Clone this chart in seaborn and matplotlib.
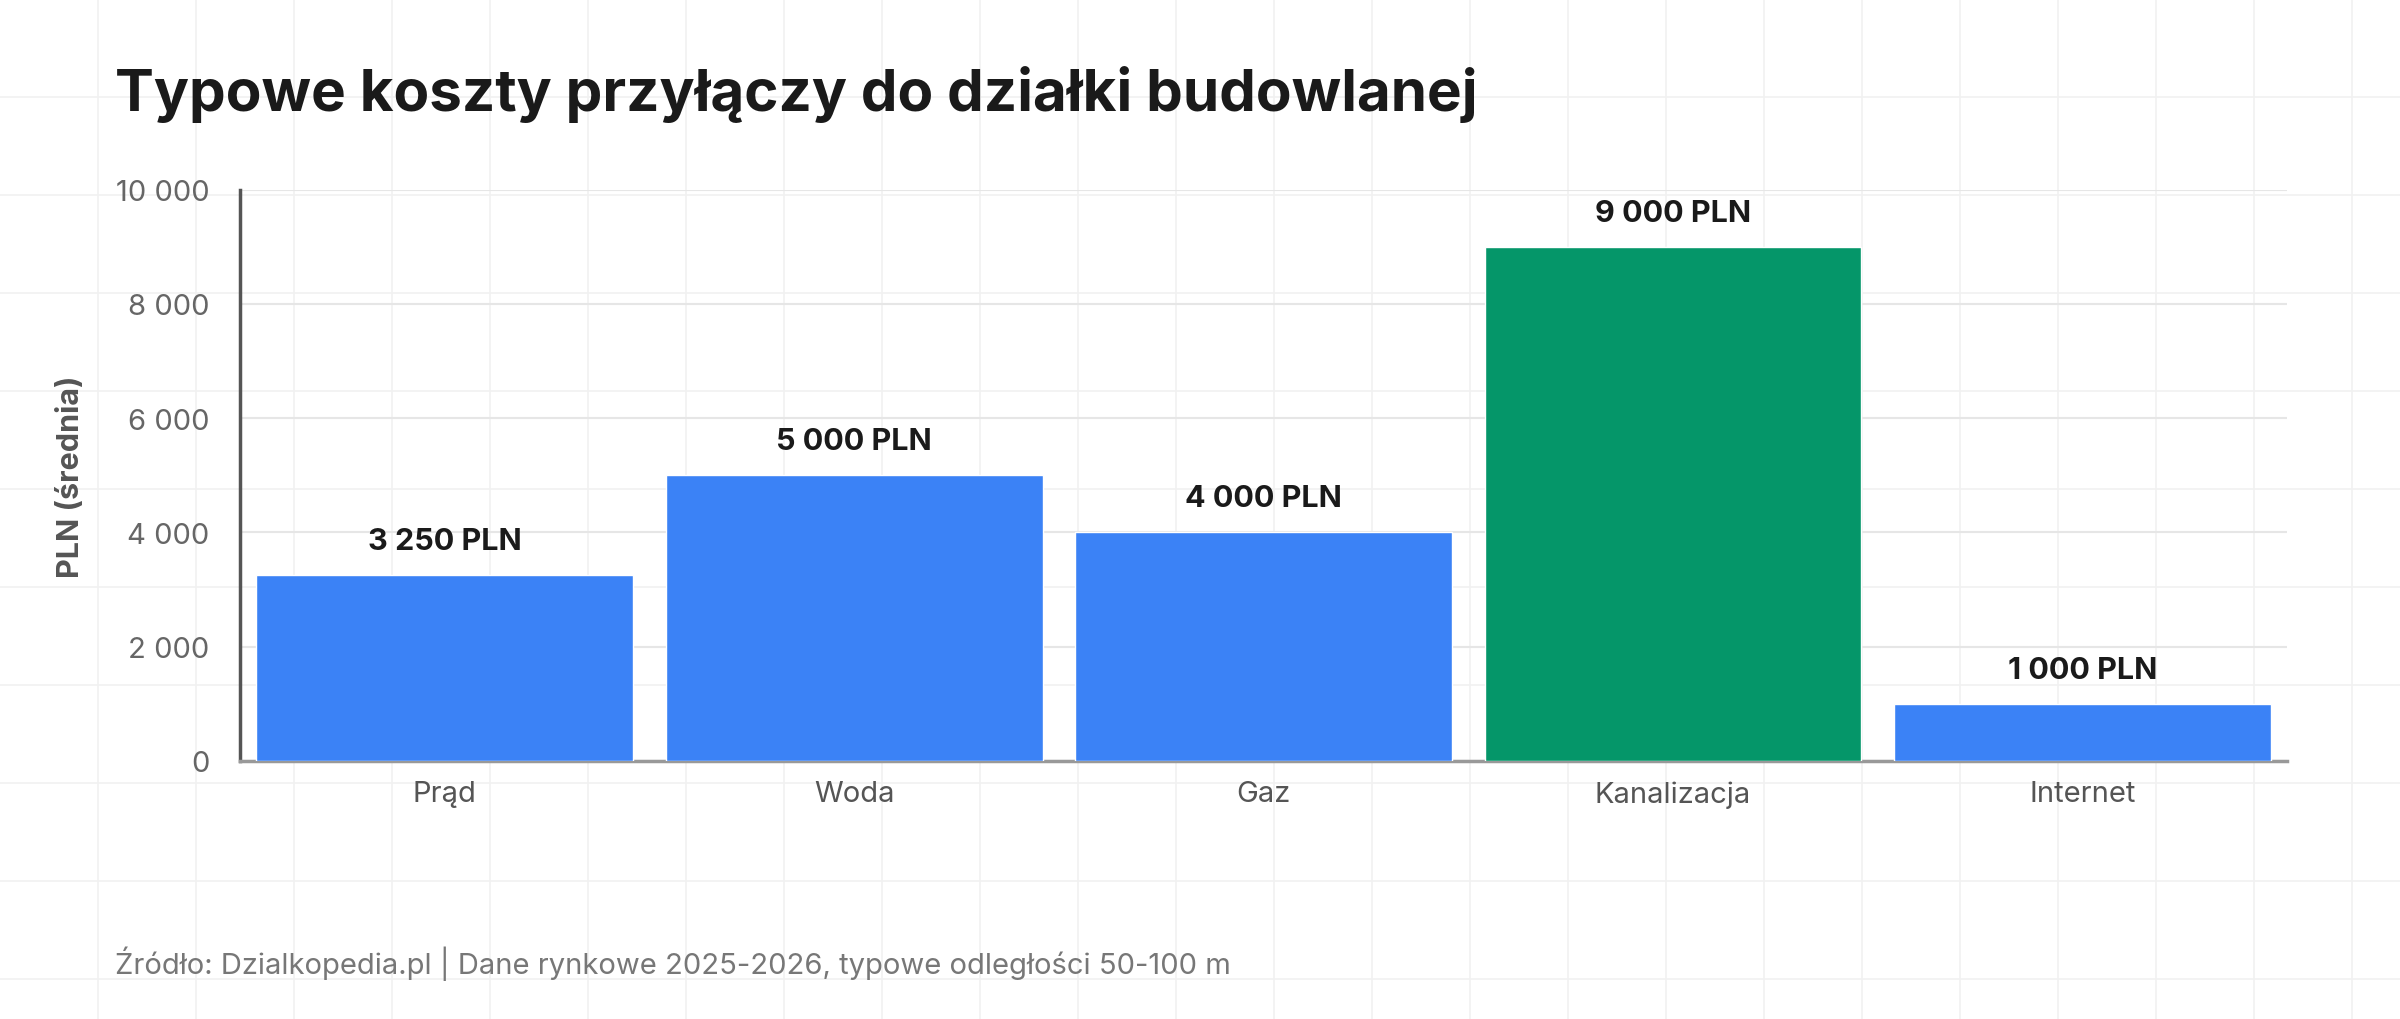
import matplotlib
matplotlib.use("Agg")
import matplotlib.pyplot as plt
import seaborn as sns
import numpy as np
from matplotlib.lines import Line2D

categories = ["Prąd", "Woda", "Gaz", "Kanalizacja", "Internet"]
values = [3250, 5000, 4000, 9000, 1000]
labels = ["3 250 PLN", "5 000 PLN", "4 000 PLN", "9 000 PLN", "1 000 PLN"]
colors = ["#3B82F6", "#3B82F6", "#3B82F6", "#059669", "#3B82F6"]
yticks = [0, 2000, 4000, 6000, 8000, 10000]
yticklabels = ["0", "2 000", "4 000", "6 000", "8 000", "10 000"]

sns.set_theme(style="white")
plt.rcParams['font.family'] = ['Inter', 'DejaVu Sans']

W, H = 2400, 1020
fig = plt.figure(figsize=(24, 10.2), dpi=100)
fig.patch.set_facecolor("white")
# background paper grid
step = 98
for x in np.arange(step, W, step):
    fig.add_artist(Line2D([x / W, x / W], [0, 1], color="#f1f1f1", lw=1.2, zorder=0))
for y in np.arange(step, H, step):
    fig.add_artist(Line2D([0, 1], [1 - y / H, 1 - y / H], color="#f1f1f1", lw=1.2, zorder=0))

ax = fig.add_axes([0.100, 0.253, 0.853, 0.560])
ax.set_facecolor("none")
sns.barplot(x=categories, y=values, hue=categories, palette=colors, legend=False,
            width=0.92, ax=ax, saturation=1, zorder=3)
ax.set_ylim(0, 10000)
ax.set_xlim(-0.5, 4.5)
ax.set_yticks(yticks)
ax.set_yticklabels(yticklabels, fontsize=21, color="#666666")
ax.tick_params(axis="x", labelsize=21, labelcolor="#555555", pad=14, length=0)
ax.tick_params(axis="y", pad=22, length=0)
ax.grid(axis="y", color="#e6e6e6", lw=1.5, zorder=0)
for s in ["top", "right"]:
    ax.spines[s].set_visible(False)
ax.spines["left"].set_color("#555555")
ax.spines["left"].set_linewidth(2.5)
ax.spines["bottom"].set_color("#999999")
ax.spines["bottom"].set_linewidth(2.5)
ax.set_xlabel("")
ax.set_ylabel("PLN (średnia)", fontsize=22, fontweight="bold", color="#555555", labelpad=22)

for i, (v, l) in enumerate(zip(values, labels)):
    ax.text(i, v + 350, l, ha="center", va="bottom", fontsize=22, fontweight="bold", color="#1a1a1a")

fig.text(75 / 1568, 1 - 62 / 667, "Typowe koszty przyłączy do działki budowlanej",
         fontsize=42, fontweight="bold", color="#1a1a1a", va="center", ha="left")
fig.text(75 / 1568, 1 - 630 / 667,
         "Źródło: Dzialkopedia.pl | Dane rynkowe 2025-2026, typowe odległości 50-100 m",
         fontsize=21, color="#777777", va="center", ha="left")

fig.savefig("out.png", dpi=100, facecolor="white")
